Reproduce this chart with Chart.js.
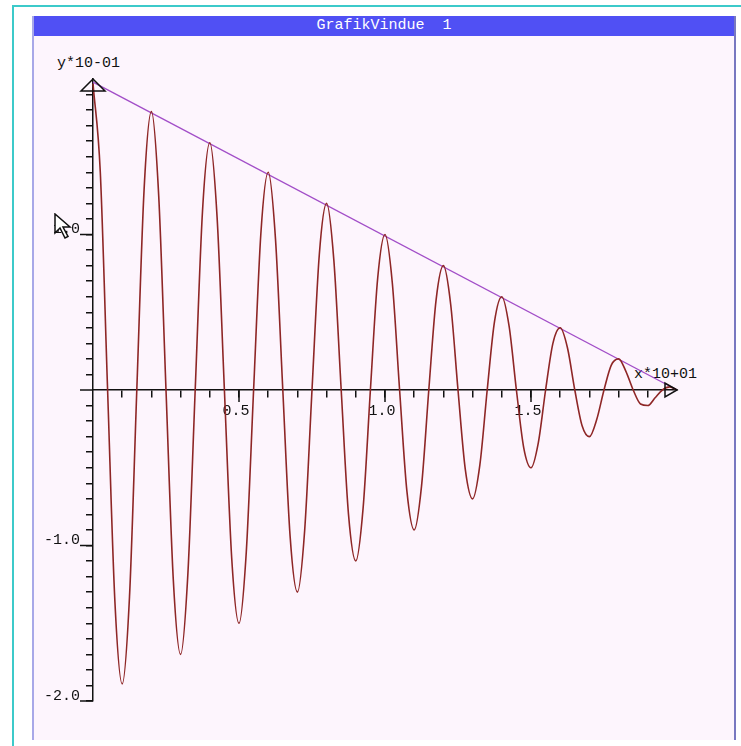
<!DOCTYPE html>
<html><head><meta charset="utf-8">
<script src="https://cdn.jsdelivr.net/npm/chart.js@4.4.0/dist/chart.umd.min.js"></script>
<style>
html,body{margin:0;padding:0;background:#fff;width:741px;height:746px;overflow:hidden;position:relative;font-family:"Liberation Mono","DejaVu Sans Mono",monospace;}
#cyanTop{position:absolute;left:12px;top:5px;width:729px;height:2px;background:#3ccaca;}
#cyanLeft{position:absolute;left:12px;top:5px;width:2px;height:741px;background:#3ccaca;}
#panel{position:absolute;left:32px;top:16px;width:700px;height:724px;background:#fdf5fd;border-left:2px solid #a8a8e8;border-right:2px solid #7878c0;}
#titlebar{position:absolute;left:0;top:0;right:0;height:20px;background:#5050f4;color:#fff;text-align:center;font-size:15px;line-height:20px;white-space:pre;}
.atitle{position:absolute;font-size:15px;color:#111;white-space:pre;line-height:15px;}
canvas{position:absolute;left:0;top:0;}
#cursor{position:absolute;left:54px;top:213px;}
</style>
</head>
<body>
<div id="cyanTop"></div>
<div id="cyanLeft"></div>
<div id="panel"><div id="titlebar">GrafikVindue  1</div></div>
<div class="atitle" style="left:57px;top:56px;">y*10-01</div>
<div class="atitle" style="left:634px;top:367px;">x*10+01</div>
<canvas id="c" width="741" height="746"></canvas>
<svg id="cursor" width="22" height="28" viewBox="0 0 22 28"><polygon points="1,1 1,20 6,15 11,25 14,23.5 9,14 16,14" fill="#fff" stroke="#111" stroke-width="1.5" stroke-linejoin="miter"/></svg>
<script>
// Damped oscillation (x in units of 10^1, y in units of 10^-1)
const xs = [0,0.025,0.05,0.075,0.1,0.125,0.15,0.175,0.2,0.225,0.25,0.275,0.3,0.325,0.35,0.375,0.4,0.425,0.45,0.475,0.5,0.525,0.55,0.575,0.6,0.625,0.65,0.675,0.7,0.725,0.75,0.775,0.8,0.825,0.85,0.875,0.9,0.925,0.95,0.975,1.0,1.025,1.05,1.075,1.1,1.125,1.15,1.175,1.2,1.225,1.25,1.275,1.3,1.325,1.35,1.375,1.4,1.425,1.45,1.475,1.5,1.525,1.55,1.575,1.6,1.625,1.65,1.675,1.7,1.725,1.75,1.775,1.8,1.825,1.85,1.875,1.9,1.925,1.95,1.975,2.0];
const ys = [1.97,1.40,0,-1.36,-1.89,-1.33,0,1.29,1.79,1.25,0,-1.22,-1.70,-1.18,0,1.15,1.59,1.11,0,-1.08,-1.50,-1.04,0,1.01,1.40,0.97,0,-0.94,-1.30,-0.90,0,0.87,1.20,0.83,0,-0.80,-1.10,-0.76,0,0.72,1.00,0.69,0,-0.65,-0.90,-0.62,0,0.58,0.80,0.55,0,-0.51,-0.70,-0.48,0,0.44,0.60,0.41,0,-0.37,-0.50,-0.34,0,0.30,0.40,0.27,0,-0.23,-0.30,-0.19,0,0.16,0.20,0.12,0,-0.09,-0.10,-0.05,0,0.02,0];
// Envelope line
const envX = [0, 2.0];
const envY = [1.98, 0];
// Tick labels
const xTickLabels = ['0.5','1.0','1.5'];
const yTickLabels = ['1.0','-1.0','-2.0'];

const labelFor = (list, v) => { const f = list.find(s => Math.abs(parseFloat(s) - v) < 1e-6); return f === undefined ? '' : f; };
const tickFont = {family: '"Liberation Mono","DejaVu Sans Mono",monospace', size: 15};
const INK = '#111';

const decor = {
  id: 'decor',
  afterDraw(chart) {
    const {ctx} = chart; const sx = chart.scales.x, sy = chart.scales.y;
    const x0 = sx.getPixelForValue(0), y0 = sy.getPixelForValue(0);
    ctx.save();
    ctx.strokeStyle = INK; ctx.lineWidth = 1.5;
    // x axis continues a little left of the y axis
    ctx.beginPath(); ctx.moveTo(x0 - 13, y0); ctx.lineTo(x0, y0); ctx.stroke();
    // longer major ticks
    xTickLabels.forEach(s => { const p = sx.getPixelForValue(parseFloat(s)); ctx.beginPath(); ctx.moveTo(p, y0); ctx.lineTo(p, y0 + 12); ctx.stroke(); });
    yTickLabels.forEach(s => { const p = sy.getPixelForValue(parseFloat(s)); ctx.beginPath(); ctx.moveTo(x0, p); ctx.lineTo(x0 - 13, p); ctx.stroke(); });
    // y arrow (open triangle)
    const ty = sy.getPixelForValue(sy.max);
    ctx.beginPath(); ctx.moveTo(x0, ty); ctx.lineTo(x0 - 12, ty + 12); ctx.lineTo(x0 + 12, ty + 12); ctx.closePath(); ctx.stroke();
    // x arrow
    const tx = sx.getPixelForValue(sx.max);
    ctx.beginPath(); ctx.moveTo(tx, y0); ctx.lineTo(tx - 12, y0 - 7); ctx.lineTo(tx - 12, y0 + 7); ctx.closePath(); ctx.stroke();
    ctx.restore();
  }
};

new Chart(document.getElementById('c'), {
  type: 'line',
  data: {
    datasets: [
      {data: xs.map((x, i) => ({x, y: ys[i]})), borderColor: '#8e2626', borderWidth: 1.6, pointRadius: 0, cubicInterpolationMode: 'monotone', fill: false, clip: false},
      {data: envX.map((x, i) => ({x, y: envY[i]})), borderColor: '#a24ec8', borderWidth: 1.4, pointRadius: 0, tension: 0, fill: false, clip: false}
    ]
  },
  options: {
    responsive: false, animation: false, devicePixelRatio: 1,
    layout: {padding: {left: 33, right: 64, top: 79, bottom: 45}},
    plugins: {legend: {display: false}, tooltip: {enabled: false}, title: {display: false}},
    scales: {
      x: {
        type: 'linear', min: 0, max: 2.0, position: {y: 0},
        afterFit(s) { s.height = 0; },
        afterBuildTicks(s) { s.ticks = s.ticks.filter(t => t.value > 0.05 && t.value < 1.99); },
        ticks: {stepSize: 0.1, includeBounds: false, autoSkip: false, maxRotation: 0, minRotation: 0, font: tickFont, color: INK, padding: 5, labelOffset: -3, callback: v => labelFor(xTickLabels, v)},
        grid: {drawOnChartArea: false, drawTicks: true, tickLength: 7, color: INK, lineWidth: 1.5},
        border: {display: true, color: INK, width: 1.5}
      },
      y: {
        type: 'linear', min: -2.0, max: 2.0, position: 'left',
        afterFit(s) { s.width = 60; },
        afterBuildTicks(s) { s.ticks = s.ticks.filter(t => t.value < 1.95 && Math.abs(t.value) > 0.05); },
        ticks: {stepSize: 0.1, includeBounds: false, autoSkip: false, font: tickFont, color: INK, padding: 6, labelOffset: -5, callback: v => labelFor(yTickLabels, v)},
        grid: {drawOnChartArea: false, drawTicks: true, tickLength: 7, color: INK, lineWidth: 1.5},
        border: {display: true, color: INK, width: 1.5}
      }
    }
  },
  plugins: [decor]
});
</script>
</body></html>
